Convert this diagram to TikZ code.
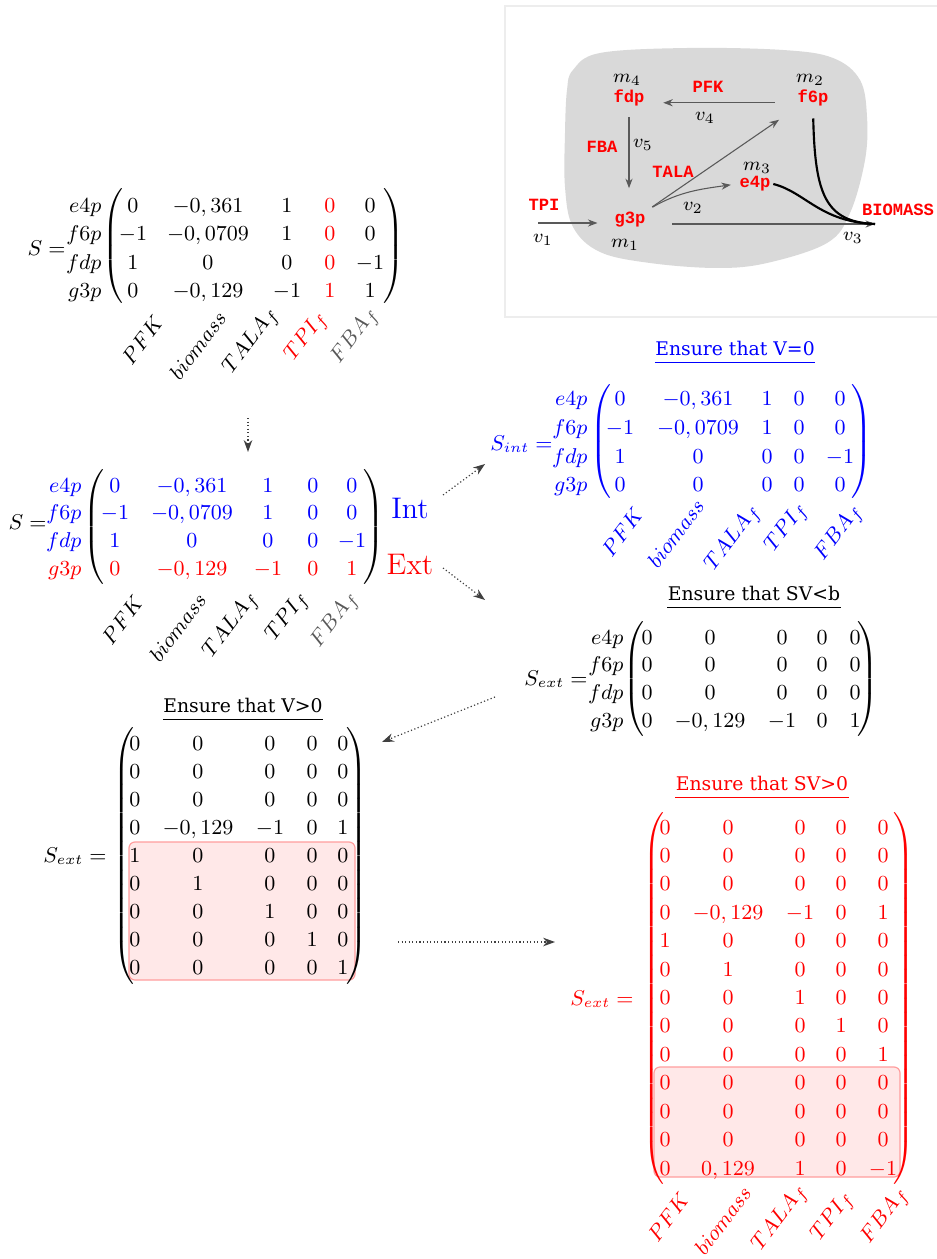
\documentclass[tikz,border=0pt]{standalone}
\usepackage{fontspec}
\usetikzlibrary{arrows.meta}
\newfontfamily\headfont{DejaVu Serif}
\newfontfamily\codefont{Liberation Mono}

% stoichiometric coefficients (decimal comma)
\newcommand\cfA{-0,361}
\newcommand\cfB{-0,0709}
\newcommand\cfC{-0,129}
\newcommand\cfD{0,129}

% tall parentheses of a given height
\newcommand\lpar[1]{$\delimiterfactor=1000\delimitershortfall=0pt\nulldelimiterspace=0pt\left(\vcenter{\hbox{\rule{0pt}{#1}}}\right.$}
\newcommand\rpar[1]{$\delimiterfactor=1000\delimitershortfall=0pt\nulldelimiterspace=0pt\left.\vcenter{\hbox{\rule{0pt}{#1}}}\right)$}

% column positions of the current matrix, then one row of five entries
\newcommand\setcols[5]{\def\cxA{#1}\def\cxB{#2}\def\cxC{#3}\def\cxD{#4}\def\cxE{#5}}
\newcommand\mrow[7]{%
  \node[cell] (#1-1) at (\cxA,#2) {$#3$};
  \node[cell] (#1-2) at (\cxB,#2) {$#4$};
  \node[cell] (#1-3) at (\cxC,#2) {$#5$};
  \node[cell] (#1-4) at (\cxD,#2) {$#6$};
  \node[cell] (#1-5) at (\cxE,#2) {$#7$};}

\begin{document}
\begin{tikzpicture}[x=0.42pt, y=-0.42pt,
  cell/.style={inner sep=0pt, text height=5.9pt, text depth=0pt, font=\fontsize{9.2}{11}\selectfont},
  rowlab/.style={cell, anchor=east},
  clab/.style={inner sep=0pt, rotate=53, anchor=east, font=\fontsize{9.3}{11}\selectfont},
  paren/.style={inner sep=0pt, font=\fontsize{9.2}{11}\selectfont},
  head/.style={inner xsep=0pt, inner ysep=2.9pt, text depth=0pt, font=\headfont\fontsize{7.9}{9}\selectfont},
  uline/.style={line width=0.7pt},
  tag/.style={inner sep=0pt, font=\fontsize{12.5}{14}\selectfont},
  link/.style={densely dotted, line width=0.5pt, black!75, -{Stealth[length=5pt,width=3.6pt]}},
  hl/.style={fill=red!9, draw=red!38, line width=0.5pt, rounded corners=2.5pt},
  code/.style={text=red, inner sep=1pt, font=\codefont\bfseries\fontsize{7.2}{8}\selectfont},
  var/.style={inner sep=1pt, font=\fontsize{8.5}{10}\selectfont},
  flow/.style={black!65, line width=0.45pt, -{Stealth[length=4pt,width=3pt]}},
  bio/.style={black, line width=0.9pt}]

\fill[white] (0,0) rectangle (936,1259);
\useasboundingbox (0,0) rectangle (936,1259);

% ---------------- network sketch ----------------
\draw[black!7, line width=0.6pt] (505,6) rectangle (950,317);
\fill[black!15] plot[smooth cycle, tension=0.6] coordinates {
  (573,70) (600,53) (687,48) (783,50) (833,58) (860,80) (867,117)
  (865,160) (850,213) (827,243) (767,263) (717,268) (650,263)
  (600,252) (573,227) (565,187) (565,133) (567,90)};

\node[code] (n-fdp) at (629,98) {fdp};
\node[var]  (m4) at (627,80) {$m_4$};
\node[code] (n-f6p) at (813,98) {f6p};
\node[var]  (m2) at (810,80) {$m_2$};
\node[code] (n-e4p) at (755,184) {e4p};
\node[var]  (m3) at (757,168) {$m_3$};
\node[code] (n-g3p) at (630,220) {g3p};
\node[var]  (m1) at (625,245) {$m_1$};

\node[code] (r-pfk) at (708,87) {PFK};
\node[var]  (v4) at (705,118) {$v_4$};
\node[code] (r-fba) at (602,147) {FBA};
\node[var]  (v5) at (643,145) {$v_5$};
\node[code] (r-tala) at (673,172) {TALA};
\node[var]  (v2) at (693,208) {$v_2$};
\node[code] (r-tpi) at (544,205) {TPI};
\node[var]  (v1) at (543,240) {$v_1$};
\node[code] (r-bio) at (898,210) {BIOMASS};
\node[var]  (v3) at (853,238) {$v_3$};

\coordinate (tpi-in) at (538,223);
\coordinate (bio-in) at (875,224);

\draw[flow, shorten <=8.4pt, shorten >=6.7pt] ([yshift=-2pt]n-f6p.west) -- ([yshift=-2pt]n-fdp.east);
\draw[flow, shorten <=3.4pt, shorten >=9pt] (n-fdp.south) -- (n-fdp.south |- n-g3p.north);
\draw[flow, shorten <=2pt, shorten >=8pt] (n-g3p.north east) -- (n-f6p.south west);
\draw[flow, shorten <=2pt, shorten >=2.5pt] (n-g3p.north east) to[out=30, in=188] (n-e4p.west);
\draw[flow, shorten >=6pt] (tpi-in) -- (tpi-in -| n-g3p.west);
\draw[flow, shorten <=10pt] (n-g3p.east |- bio-in) -- (bio-in);
\draw[bio] (n-e4p.east) .. controls +(32,8) and +(-55,-2) .. (bio-in);
\draw[bio, shorten <=4pt] (n-f6p.south) .. controls +(2,85) and +(-50,-2) .. (bio-in);

% ---------------- full stoichiometric matrix ----------------
\node[rowlab] (A-S) at (66,248) {$S=$};
\node[rowlab] (A-r1) at (102,205) {$e4p$};
\node[rowlab] (A-r2) at (102,233) {$f6p$};
\node[rowlab] (A-r3) at (102,262) {$fdp$};
\node[rowlab] (A-r4) at (102,290) {$g3p$};
\node[paren] (A-lp) at (112.5,246) {\lpar{48pt}};
\node[paren] (A-rp) at (393.5,246) {\rpar{48pt}};
\setcols{133}{208}{287}{330}{370}
\mrow{A1}{205}{0}{\cfA}{1}{\color{red}0}{0}
\mrow{A2}{233}{-1}{\cfB}{1}{\color{red}0}{0}
\mrow{A3}{262}{1}{0}{0}{\color{red}0}{-1}
\mrow{A4}{290}{0}{\cfC}{-1}{\color{red}1}{1}
\node[clab] (A-c1) at (159,318) {$PFK$};
\node[clab] (A-c2) at (222,313) {$biomass$};
\node[clab] (A-c3) at (275,311) {$TALA_f$};
\node[clab, text=red] (A-c4) at (324,315) {$TPI_f$};
\node[clab, text=black!65] (A-c5) at (375,311) {$FBA_f$};

% ---------------- split into internal / external rows ----------------
\node[rowlab] (B-S) at (47,522) {$S=$};
\node[rowlab, text=blue] (B-r1) at (82,485) {$e4p$};
\node[rowlab, text=blue] (B-r2) at (82,512) {$f6p$};
\node[rowlab, text=blue] (B-r3) at (82,540) {$fdp$};
\node[rowlab, text=red] (B-r4) at (82,568) {$g3p$};
\node[paren] (B-lp) at (93.5,527) {\lpar{46pt}};
\node[paren] (B-rp) at (373.5,527) {\rpar{46pt}};
\setcols{115}{192}{268}{313}{352}
\begin{scope}[text=blue]
\mrow{B1}{485}{0}{\cfA}{1}{0}{0}
\mrow{B2}{512}{-1}{\cfB}{1}{0}{0}
\mrow{B3}{540}{1}{0}{0}{0}{-1}
\end{scope}
\begin{scope}[text=red]
\mrow{B4}{568}{0}{\cfC}{-1}{0}{1}
\end{scope}
\node[clab] (B-c1) at (139,598) {$PFK$};
\node[clab] (B-c2) at (202,595) {$biomass$};
\node[clab] (B-c3) at (255,595) {$TALA_f$};
\node[clab] (B-c4) at (305,595) {$TPI_f$};
\node[clab, text=black!65] (B-c5) at (355,595) {$FBA_f$};
\node[tag, text=blue] (int) at (410,508) {Int};
\node[tag, text=red] (ext) at (410,565) {Ext};

% ---------------- internal part ----------------
\node[head, text=blue] (h-int) at (735,348) {Ensure that V=0};
\draw[uline, blue] (h-int.south west) -- (h-int.south east);
\begin{scope}[text=blue]
\node[rowlab] (C-S) at (553,443) {$S_{int}=$};
\node[rowlab] (C-r1) at (588,398) {$e4p$};
\node[rowlab] (C-r2) at (588,427) {$f6p$};
\node[rowlab] (C-r3) at (588,456) {$fdp$};
\node[rowlab] (C-r4) at (588,484) {$g3p$};
\node[paren] (C-lp) at (600.5,441.5) {\lpar{45pt}};
\node[paren] (C-rp) at (861.5,441.5) {\rpar{45pt}};
\setcols{620}{698}{767}{799}{840}
\mrow{C1}{398}{0}{\cfA}{1}{0}{0}
\mrow{C2}{427}{-1}{\cfB}{1}{0}{0}
\mrow{C3}{456}{1}{0}{0}{0}{-1}
\mrow{C4}{484}{0}{0}{0}{0}{0}
\node[clab] (C-c1) at (639,510) {$PFK$};
\node[clab] (C-c2) at (700,501) {$biomass$};
\node[clab] (C-c3) at (757,508) {$TALA_f$};
\node[clab] (C-c4) at (804,506) {$TPI_f$};
\node[clab] (C-c5) at (859,508) {$FBA_f$};
\end{scope}

% ---------------- external part ----------------
\node[head] (h-ext) at (754,593) {Ensure that SV<b};
\draw[uline] (h-ext.south west) -- (h-ext.south east);
\node[rowlab] (D-S) at (588,678) {$S_{ext}=$};
\node[rowlab] (D-r1) at (624,637) {$e4p$};
\node[rowlab] (D-r2) at (624,664.5) {$f6p$};
\node[rowlab] (D-r3) at (624,692.7) {$fdp$};
\node[rowlab] (D-r4) at (624,720.7) {$g3p$};
\node[paren] (D-lp) at (633.5,679) {\lpar{45pt}};
\node[paren] (D-rp) at (867.5,679) {\rpar{45pt}};
\setcols{647}{710}{782}{822}{855}
\mrow{D1}{637}{0}{0}{0}{0}{0}
\mrow{D2}{664.5}{0}{0}{0}{0}{0}
\mrow{D3}{692.7}{0}{0}{0}{0}{0}
\mrow{D4}{720.7}{0}{\cfC}{-1}{0}{1}

% ---------------- positive fluxes ----------------
\node[head] (h-vpos) at (243,705) {Ensure that V>0};
\draw[uline] (h-vpos.south west) -- (h-vpos.south east);
\draw[hl] (129,842) rectangle (355,980);
\node[rowlab] (E-S) at (107,855) {$S_{ext}=$};
\node[paren] (E-lp) at (124,856) {\lpar{104pt}};
\node[paren] (E-rp) at (356.5,856) {\rpar{104pt}};
\setcols{135}{198}{270}{312}{343}
\mrow{E1}{743}{0}{0}{0}{0}{0}
\mrow{E2}{771.1}{0}{0}{0}{0}{0}
\mrow{E3}{799.2}{0}{0}{0}{0}{0}
\mrow{E4}{827.3}{0}{\cfC}{-1}{0}{1}
\mrow{E5}{855.4}{1}{0}{0}{0}{0}
\mrow{E6}{883.5}{0}{1}{0}{0}{0}
\mrow{E7}{911.6}{0}{0}{1}{0}{0}
\mrow{E8}{939.7}{0}{0}{0}{1}{0}
\mrow{E9}{967.8}{0}{0}{0}{0}{1}

% ---------------- positive production ----------------
\node[head, text=red] (h-svpos) at (762,783) {Ensure that SV>0};
\draw[uline, red] (h-svpos.south west) -- (h-svpos.south east);
\draw[hl] (654,1067) rectangle (900,1177);
\begin{scope}[text=red]
\node[rowlab] (F-S) at (634,998) {$S_{ext}=$};
\node[paren] (F-lp) at (654,998.5) {\lpar{152pt}};
\node[paren] (F-rp) at (904,998.5) {\rpar{152pt}};
\setcols{665}{728}{800}{841}{883}
\mrow{F1}{827}{0}{0}{0}{0}{0}
\mrow{F2}{855.4}{0}{0}{0}{0}{0}
\mrow{F3}{883.8}{0}{0}{0}{0}{0}
\mrow{F4}{912.3}{0}{\cfC}{-1}{0}{1}
\mrow{F5}{940.7}{1}{0}{0}{0}{0}
\mrow{F6}{969.1}{0}{1}{0}{0}{0}
\mrow{F7}{997.5}{0}{0}{1}{0}{0}
\mrow{F8}{1025.9}{0}{0}{0}{1}{0}
\mrow{F9}{1054.4}{0}{0}{0}{0}{1}
\mrow{F10}{1082.8}{0}{0}{0}{0}{0}
\mrow{F11}{1111.2}{0}{0}{0}{0}{0}
\mrow{F12}{1139.6}{0}{0}{0}{0}{0}
\mrow{F13}{1168}{0}{\cfD}{1}{0}{-1}
\node[clab] (F-c1) at (685,1195) {$PFK$};
\node[clab] (F-c2) at (747,1188) {$biomass$};
\node[clab] (F-c3) at (804,1188) {$TALA_f$};
\node[clab] (F-c4) at (850,1195) {$TPI_f$};
\node[clab] (F-c5) at (905,1191) {$FBA_f$};
\end{scope}

% ---------------- connecting arrows ----------------
\coordinate (a-out) at (248,418);   \coordinate (b-in) at (248,452);
\coordinate (int-out) at (443,495); \coordinate (sint-in) at (485,464);
\coordinate (ext-out) at (443,568); \coordinate (sext-in) at (485,600);
\coordinate (sext-out) at (495,697); \coordinate (vpos-in) at (382,742);
\coordinate (vpos-out) at (398,942); \coordinate (svpos-in) at (555,942);
\draw[link] (a-out) -- (b-in);
\draw[link] (int-out) -- (sint-in);
\draw[link] (ext-out) -- (sext-in);
\draw[link] (sext-out) -- (vpos-in);
\draw[link] (vpos-out) -- (svpos-in);

\end{tikzpicture}
\end{document}
